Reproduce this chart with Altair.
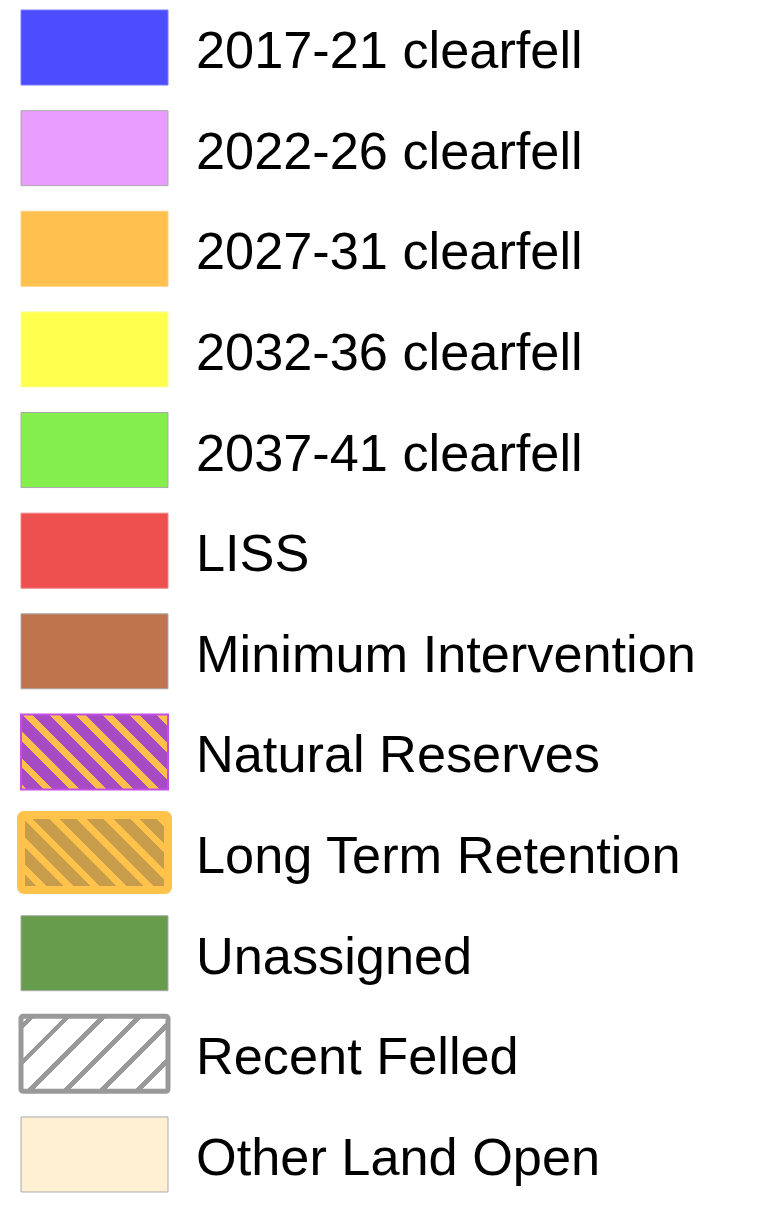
import math
import altair as alt
import pandas as pd

# ---- data ----
labels = [
    "2017-21 clearfell", "2022-26 clearfell", "2027-31 clearfell",
    "2032-36 clearfell", "2037-41 clearfell", "LISS",
    "Minimum Intervention", "Natural Reserves", "Long Term Retention",
    "Unassigned", "Recent Felled", "Other Land Open",
]
fills = [
    "#4d4dff", "#e89cfd", "#ffc04d", "#ffff4d", "#84ee4d", "#ee4f4f",
    "#c0744d", "#a64bc4", "#ffc24a", "#679c4d", "#ffffff", "#fff0d4",
]
strokes = [
    "#7a7aff", "#aaaaaa", "#ffcf80", "#ffff99", "#aaaaaa", "#f08585",
    "#aaaaaa", "#c04fe6", "#ffc24a", "#aaaaaa", "#999999", "#aaaaaa",
]
kinds = ["solid"] * 7 + ["reserve", "retention", "solid", "felled", "solid"]

df = pd.DataFrame({"label": labels, "fill": fills, "stroke": strokes, "kind": kinds})

# ---- layout / style ----
W, H = 147.0, 75.0
X0, X1 = 13, 160
DIAG = (W + H) / math.sqrt(2)
K = (W + H) / (W * W + H * H)


def stripe_stops(col_a, col_b, period, width_a, start):
    """hard-edged stops: col_a bands of width_a every period, starting at start (px)."""
    segs = []
    d = start - period * 20
    while d < DIAG:
        segs.append((d, d + width_a, col_a))
        segs.append((d + width_a, d + period, col_b))
        d += period
    stops = []
    for s, e, c in segs:
        s2, e2 = max(s, 0), min(e, DIAG)
        if e2 <= s2:
            continue
        stops.append(alt.GradientStop(color=c, offset=round(s2 / DIAG, 5)))
        stops.append(alt.GradientStop(color=c, offset=round(e2 / DIAG, 5)))
    return stops


def back_grad(stops):  # "\" stripes
    return alt.LinearGradient(gradient="linear", stops=stops,
                              x1=0, y1=1, x2=round(K * W, 5), y2=round(1 - K * H, 5))


def fwd_grad(stops):  # "/" stripes
    return alt.LinearGradient(gradient="linear", stops=stops,
                              x1=0, y1=0, x2=round(K * W, 5), y2=round(K * H, 5))


yenc = alt.Y("label:N", scale=alt.Scale(domain=labels, paddingInner=0.2545, paddingOuter=0.02), axis=None)

base = alt.Chart(df)

solid = base.transform_filter(alt.datum.kind == "solid").mark_rect(strokeWidth=1).encode(
    y=yenc, x=alt.value(X0), x2=alt.value(X1),
    fill=alt.Fill("fill:N", scale=None), stroke=alt.Stroke("stroke:N", scale=None),
)

reserve = base.transform_filter(alt.datum.kind == "reserve").mark_rect(
    fill=back_grad(stripe_stops("#ffc04b", "#a64bc4", 18.9, 7.0, -3.0)),
    stroke="#c04fe6", strokeWidth=2,
).encode(y=yenc, x=alt.value(X0), x2=alt.value(X1))

retention = base.transform_filter(alt.datum.kind == "retention").mark_rect(
    fill=back_grad(stripe_stops("#c79d4c", "#ffc24a", 18.9, 12.0, 2.0)),
    stroke="#ffc24a", strokeWidth=8, cornerRadius=3,
).encode(y=yenc, x=alt.value(X0), x2=alt.value(X1))

felled = base.transform_filter(alt.datum.kind == "felled").mark_rect(
    fill=fwd_grad(stripe_stops("#999999", "#ffffff", 25.4, 4.5, 5.5)),
    stroke="#999999", strokeWidth=5, cornerRadius=2,
).encode(y=yenc, x=alt.value(X0), x2=alt.value(X1))

text = base.mark_text(
    align="left", baseline="alphabetic", dy=20.5, font="Liberation Sans",
    fontSize=52.3, color="#000000",
).encode(y=yenc, x=alt.value(188), text="label:N")

chart = alt.layer(solid, reserve, retention, felled, text).properties(
    width=748, height=1186, padding=0, autosize=alt.AutoSizeParams(type="none"),
).configure_view(stroke=None)

chart.save("out.html", embed_options={"renderer": "svg", "actions": False})
